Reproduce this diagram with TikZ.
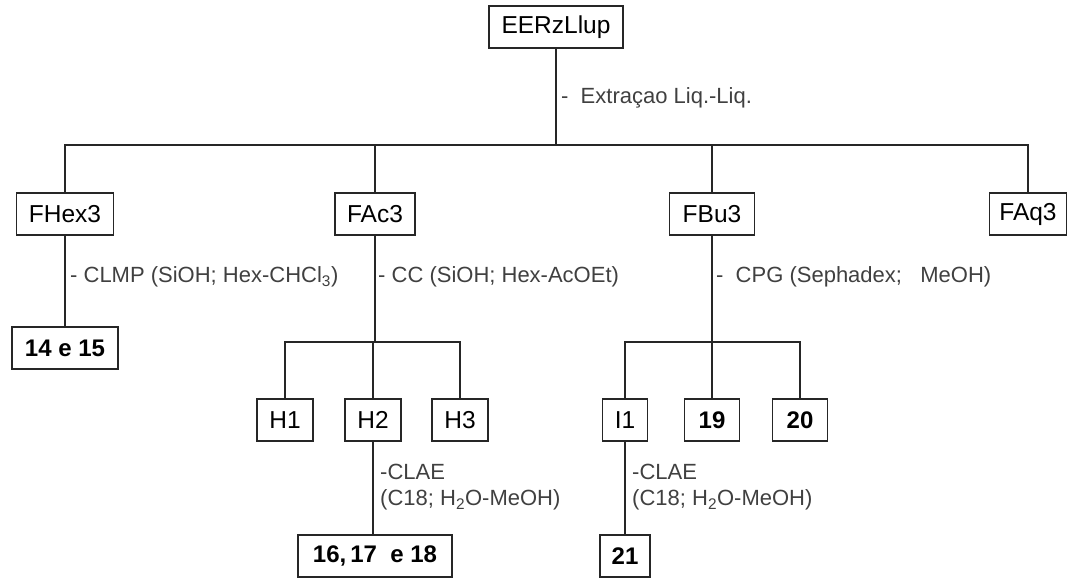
\documentclass[tikz,border=0pt]{standalone}
\usepackage{fontspec}
\setmainfont{Liberation Sans}
\begin{document}
\begin{tikzpicture}[
    x=1pt, y=-1pt,
    every node/.style={font=\fontsize{22}{26}\selectfont, align=left},
    box/.style={rectangle, draw=black!85, line width=1.3pt, minimum height=42pt, inner sep=0pt,
        font=\fontsize{24.5}{28}\selectfont},
    num/.style={box, font=\fontsize{24}{28}\selectfont\bfseries},
    lbl/.style={anchor=west, text=black!75, inner sep=0pt},
    ln/.style={draw=black!85, line width=1.3pt}
]
\useasboundingbox (0,0) rectangle (1070,578);
% top level
\node[box, minimum width=134pt] (eer) at (556,27) {EERzLlup};
\coordinate (bar0) at (556,145);
\node[lbl] (l0) at (561,98) {-\ \ Extraçao Liq.-Liq.};
% fractions
\node[box, minimum width=97pt] (fhex) at (65,214) {FHex3};
\node[box, minimum width=80pt] (fac)  at (375,214) {FAc3};
\node[box, minimum width=85pt] (fbu)  at (712,214) {FBu3};
\node[box, minimum width=77pt] (faq)  at (1028,214) {FAq3};
\draw[ln] (eer) -- (bar0);
\draw[ln] (fhex.north) |- (bar0) -| (faq.north);
\draw[ln] (fac.north) -- (fac.north |- bar0);
\draw[ln] (fbu.north) -- (fbu.north |- bar0);
% FHex3
\node[num, minimum width=106pt] (c1415) at (65,348) {14 e 15};
\node[lbl] (l1) at (70,277) {- CLMP (SiOH; Hex-CHCl\textsubscript{3})};
\draw[ln] (fhex) -- (c1415);
% FAc3
\node[lbl] (l2) at (378,277) {- CC (SiOH; Hex-AcOEt)};
\node[box, minimum width=56pt] (h1) at (285,420) {H1};
\node[box, minimum width=56pt] (h2) at (373,420) {H2};
\node[box, minimum width=56pt] (h3) at (460,420) {H3};
\coordinate (bar1) at (375,342);
\draw[ln] (fac) -- (bar1);
\draw[ln] (h1.north) |- (bar1) -| (h3.north);
\draw[ln] (h2.north) -- (h2.north |- bar1);
\node[num, minimum width=154pt] (c161718) at (375,556) {16,\,17\ \ e 18};
\node[lbl] (l3) at (380,487) {-CLAE\\(C18; H\textsubscript{2}O-MeOH)};
\draw[ln] (h2) -- (h2 |- c161718.north);
% FBu3
\node[lbl] (l4) at (716,277) {-\ \ CPG (Sephadex;\ \ \ MeOH)};
\node[box, minimum width=45pt] (i1) at (625,420) {I1};
\node[num, minimum width=55pt] (c19) at (712,420) {19};
\node[num, minimum width=55pt] (c20) at (800,420) {20};
\coordinate (bar2) at (712,342);
\draw[ln] (fbu) -- (bar2);
\draw[ln] (i1.north) |- (bar2) -| (c20.north);
\draw[ln] (c19.north) -- (c19.north |- bar2);
\node[num, minimum width=50pt] (c21) at (625,556) {21};
\node[lbl] (l5) at (632,487) {-CLAE\\(C18; H\textsubscript{2}O-MeOH)};
\draw[ln] (i1) -- (c21);
\end{tikzpicture}
\end{document}
